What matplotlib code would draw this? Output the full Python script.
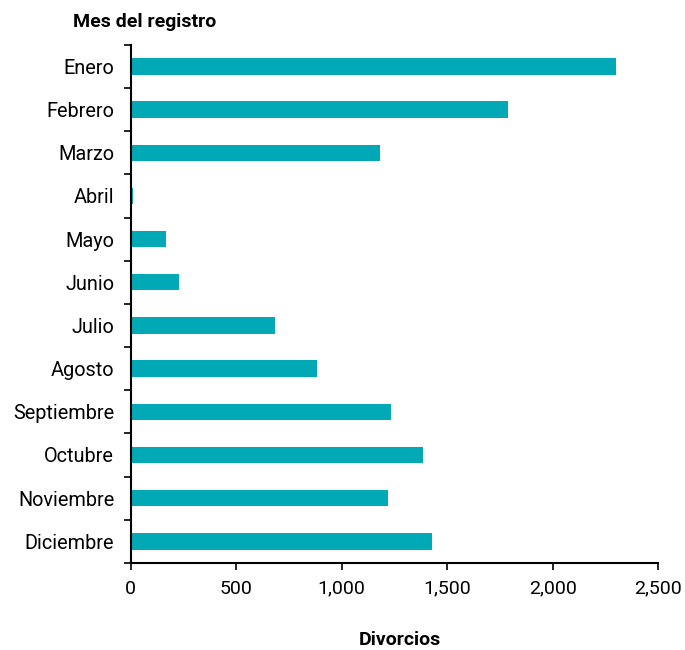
import numpy as np
import matplotlib
matplotlib.use('Agg')
import matplotlib.pyplot as plt
from matplotlib.ticker import FuncFormatter

plt.rcParams['font.family'] = ['Roboto', 'DejaVu Sans']

# Data
meses = ['Enero', 'Febrero', 'Marzo', 'Abril', 'Mayo', 'Junio', 'Julio',
         'Agosto', 'Septiembre', 'Octubre', 'Noviembre', 'Diciembre']
divorcios = [2300, 1790, 1180, 10, 166, 228, 682, 885, 1236, 1385, 1220, 1430]
xticks = [0, 500, 1000, 1500, 2000, 2500]

fig = plt.figure(figsize=(6.85, 6.5), dpi=100)
ax = fig.add_axes([0.191, 0.134, 0.7696, 0.797])

y = np.arange(len(meses))
ax.barh(y, divorcios, height=0.38, color='#00A9B5')

ax.set_ylim(len(meses) - 0.5, -0.5)
ax.set_xlim(0, 2500)
ax.set_xticks(xticks)
ax.xaxis.set_major_formatter(FuncFormatter(lambda v, p: f'{int(v):,}'))

# category labels in the middle, tick marks at the boundaries
ax.set_yticks(y)
ax.set_yticklabels(meses)
ax.set_yticks(np.arange(-0.5, len(meses)), minor=True)
ax.tick_params(axis='y', which='major', length=0, pad=12, labelsize=14.3)
ax.tick_params(axis='y', which='minor', length=5, width=1.2, direction='out')
ax.tick_params(axis='x', length=5, width=1.2, pad=7, labelsize=14)

for s in ['top', 'right']:
    ax.spines[s].set_visible(False)
for s in ['left', 'bottom']:
    ax.spines[s].set_linewidth(1.5)

fig.text(73 / 685, 1 - 22 / 650, 'Mes del registro', ha='left', va='center',
         fontsize=14, fontweight='bold')
fig.text(400 / 685, 1 - 640 / 650, 'Divorcios', ha='center', va='center',
         fontsize=14, fontweight='bold')

plt.savefig('out.png', dpi=100)
